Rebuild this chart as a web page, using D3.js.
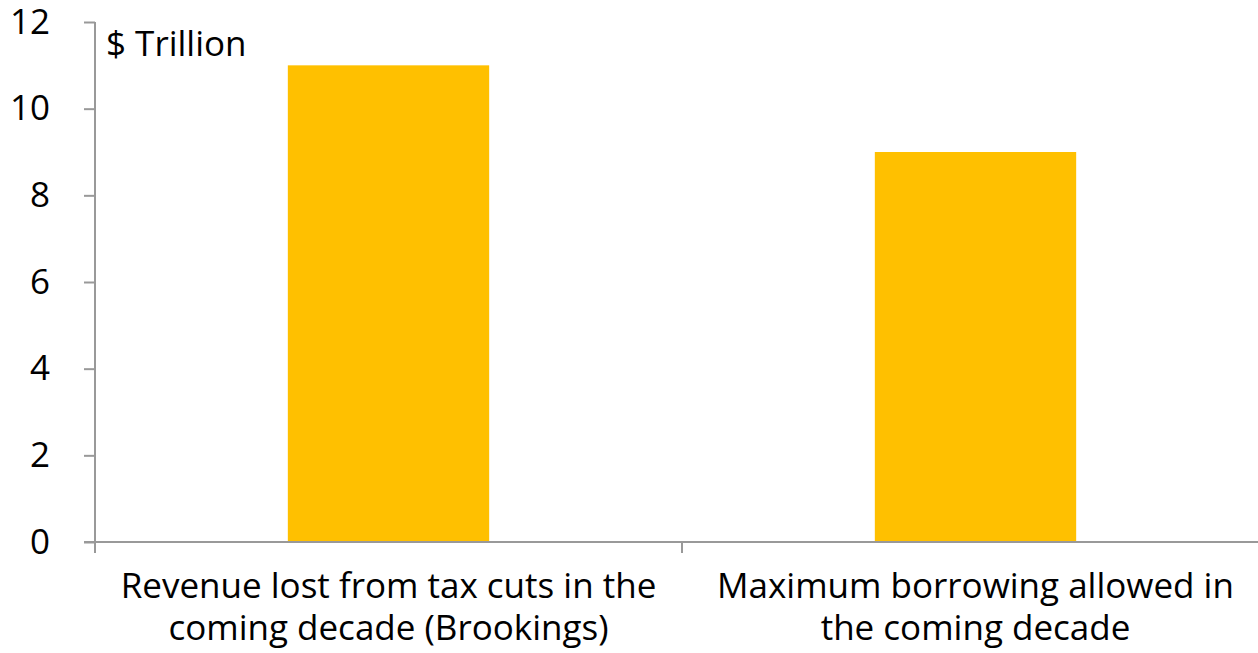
<!DOCTYPE html>
<html><head><meta charset="utf-8">
<script src="https://cdn.jsdelivr.net/npm/d3@7"></script>
<style>body{margin:0;background:#fff;} svg{display:block;} text{font-family:"Open Sans",sans-serif;fill:#000;}</style>
</head><body>
<svg id="c" width="1258" height="653"></svg>
<script>
const categories = [
  ["Revenue lost from tax cuts in the", "coming decade (Brookings)"],
  ["Maximum borrowing allowed in", "the coming decade"]
];
const values = [11, 9];
const yTicks = [0, 2, 4, 6, 8, 10, 12];
const unitLabel = "$ Trillion";

(function(){
const svg = d3.select("#c");
const L = 95, R = 1269, T = 22, B = 542;
const FS = "35px";
const x = d3.scaleBand().domain(d3.range(categories.length)).range([L, R]).paddingInner(0).paddingOuter(0);
const y = d3.scaleLinear().domain([0, 12]).range([B, T]);
const barW = x.bandwidth() * 0.343;

svg.selectAll("rect.bar").data(values).join("rect")
  .attr("class", "bar")
  .attr("x", (d, i) => x(i) + (x.bandwidth() - barW) / 2)
  .attr("width", barW)
  .attr("y", d => y(d))
  .attr("height", d => y(0) - y(d))
  .attr("fill", "#FFC000");

const grey = "#999";
const ya = svg.append("g").attr("transform", `translate(${L},0)`)
  .call(d3.axisLeft(y).tickValues(yTicks).tickSize(11).tickPadding(34));
ya.select(".domain").remove();
ya.selectAll(".tick line").attr("stroke", grey).attr("stroke-width", 2);
ya.selectAll(".tick text").style("font-size", FS).style("font-family", "Open Sans, sans-serif").attr("fill", "#000");
svg.append("line").attr("x1", L).attr("x2", L).attr("y1", y(12)).attr("y2", B + 11)
  .attr("stroke", grey).attr("stroke-width", 2);

svg.append("line").attr("x1", L - 11).attr("x2", 1258).attr("y1", B).attr("y2", B)
  .attr("stroke", grey).attr("stroke-width", 2);
svg.selectAll("line.xt").data(d3.range(categories.length + 1)).join("line")
  .attr("class", "xt")
  .attr("x1", i => L + i * x.bandwidth()).attr("x2", i => L + i * x.bandwidth())
  .attr("y1", B).attr("y2", B + 11)
  .attr("stroke", grey).attr("stroke-width", 2);

const lbl = svg.selectAll("text.cat").data(categories).join("text")
  .attr("class", "cat")
  .attr("text-anchor", "middle")
  .style("font-size", FS);
lbl.each(function(d, i) {
  const t = d3.select(this);
  d.forEach((line, j) => {
    t.append("tspan").attr("x", x(i) + x.bandwidth() / 2).attr("y", 598 + j * 42).text(line);
  });
});

svg.append("text").attr("x", 106).attr("y", 56).style("font-size", FS).text(unitLabel);
})();
</script>
</body></html>
